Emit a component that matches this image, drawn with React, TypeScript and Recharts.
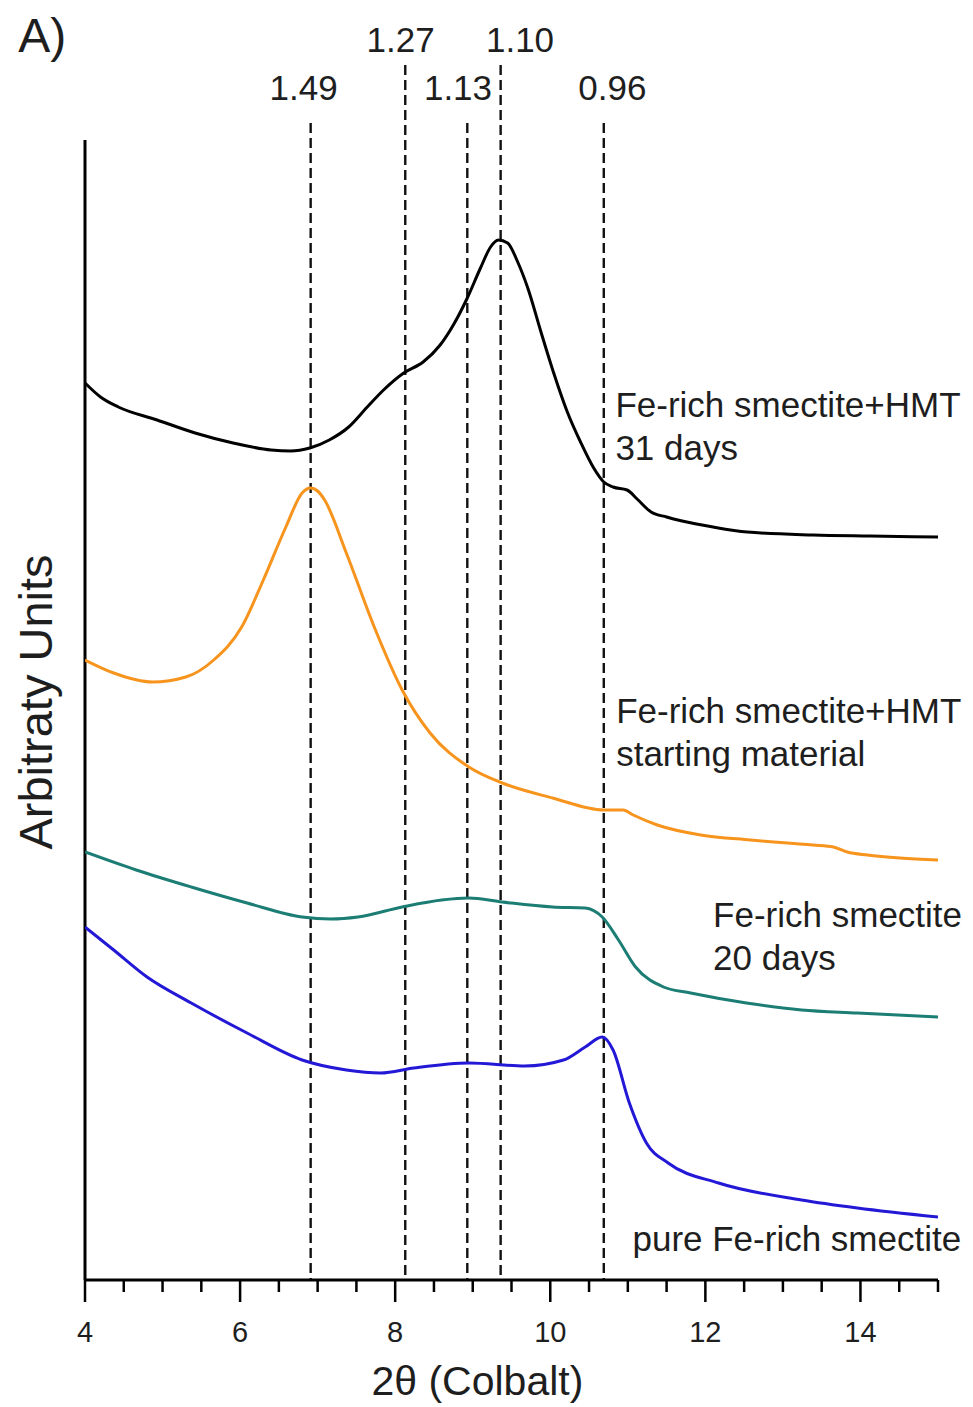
import React from 'react';
import { LineChart, Line, XAxis, YAxis, ReferenceLine, ReferenceDot } from 'recharts';

const FONT = '"Liberation Sans", Arial, Helvetica, sans-serif';
const TEXT = '#1e1e1e';

// ---- series: 2θ (Co) and arbitrary intensity ----
const black2Theta = [4.0, 4.2, 4.43, 4.93, 5.42, 5.91, 6.4, 6.65, 6.9, 7.15, 7.4, 7.64, 7.85, 8.11, 8.36, 8.58, 8.75, 8.93, 9.1, 9.23, 9.33, 9.45, 9.58, 9.71, 9.88, 10.04, 10.22, 10.39, 10.56, 10.69, 10.81, 10.99, 11.12, 11.3, 11.5, 11.7, 12.1, 12.54, 13.39, 14.12, 15.0];
const blackIntensity = [897, 883, 873, 860, 847, 837, 830, 829, 832, 840, 853, 873, 890, 907, 918, 935, 955, 982, 1012, 1033, 1040, 1037, 1018, 992, 948, 908, 868, 838, 812, 798, 793, 790, 781, 768, 763, 759, 753, 748, 745, 744, 743];

const orange2Theta = [4.0, 4.37, 4.87, 5.3, 5.66, 6.02, 6.3, 6.59, 6.8, 6.91, 7.0, 7.09, 7.37, 7.73, 8.09, 8.45, 8.95, 9.38, 10.03, 10.69, 10.94, 11.07, 11.38, 11.94, 12.58, 13.39, 13.65, 13.83, 14.09, 14.51, 15.0];
const orangeIntensity = [620, 607, 598, 603, 620, 653, 700, 753, 787, 792, 789, 780, 727, 653, 590, 547, 513, 497, 482, 470, 470, 465, 455, 445, 440, 435, 433, 428, 425, 422, 420];

const teal2Theta = [4.0, 4.66, 5.37, 6.09, 6.8, 7.17, 7.52, 8.09, 8.6, 8.95, 9.38, 10.03, 10.45, 10.67, 10.88, 11.1, 11.46, 11.81, 12.53, 13.24, 13.96, 15.0];
const tealIntensity = [428, 410, 393, 377, 363, 361, 363, 373, 380, 382, 378, 373, 372, 363, 340, 313, 293, 287, 277, 270, 267, 263];

const blue2Theta = [4.0, 4.37, 4.8, 5.37, 6.09, 6.8, 7.37, 7.81, 8.24, 8.95, 9.67, 10.17, 10.45, 10.67, 10.81, 11.02, 11.24, 11.52, 12.17, 13.24, 13.96, 15.0];
const blueIntensity = [353, 330, 303, 277, 247, 220, 210, 207, 212, 217, 214, 220, 233, 243, 230, 177, 137, 117, 97, 80, 72, 63];

// ---- axis ----
const xTicks = [4, 4.5, 5, 5.5, 6, 6.5, 7, 7.5, 8, 8.5, 9, 9.5, 10, 10.5, 11, 11.5, 12, 12.5, 13, 13.5, 14, 14.5, 15];
const majorTickLabels = [4, 6, 8, 10, 12, 14];

// ---- d-spacing markers (nm) ----
const dSpacingLabels = ['1.49', '1.27', '1.13', '1.10', '0.96'];
const dSpacing2Theta = [6.91, 8.13, 8.93, 9.36, 10.69];
const dLineTop = [1157, 1215, 1157, 1215, 1157];
const dLabel2Theta = [6.82, 8.07, 8.81, 9.61, 10.8];
const dLabelY = [1180, 1228, 1180, 1228, 1180];

// ---- sample labels ----
const sampleLines = [
  ['Fe-rich smectite+HMT', '31 days'],
  ['Fe-rich smectite+HMT', 'starting material'],
  ['Fe-rich smectite', '20 days'],
  ['pure Fe-rich smectite'],
];
const sampleLabel2Theta = [10.84, 10.85, 12.1, 11.06];
const sampleLabelY = [863, 557, 353, 29];

const colors = ['#000000', '#f7941d', '#1b7d74', '#2318d6'];

const toData = (xs: number[], ys: number[]) => xs.map((x, i) => ({ x, y: ys[i] }));
const series = [
  toData(black2Theta, blackIntensity),
  toData(orange2Theta, orangeIntensity),
  toData(teal2Theta, tealIntensity),
  toData(blue2Theta, blueIntensity),
];

const center = (vb: any) => ({
  cx: vb.x + (vb.width || 0) / 2,
  cy: vb.y + (vb.height || 0) / 2,
});

const renderTick = (props: any) => {
  const { x, y, payload } = props;
  const v = payload.value;
  const major = majorTickLabels.includes(v);
  return (
    <g>
      <line x1={x} x2={x} y1={y} y2={y + (major ? 22 : 12)} stroke="#000" strokeWidth={2.5} />
      {major && (
        <text x={x} y={y + 62} textAnchor="middle" fontSize={29} fontFamily={FONT} fill={TEXT}>
          {v}
        </text>
      )}
    </g>
  );
};

const textLabel = (lines: string[], size: number, anchor: string, lineGap = 43) => (p: any) => {
  const { cx, cy } = center(p.viewBox);
  return (
    <text x={cx} y={cy} textAnchor={anchor} fontSize={size} fontFamily={FONT} fill={TEXT}>
      {lines.map((l, i) => (
        <tspan key={i} x={cx} y={cy + i * lineGap}>
          {l}
        </tspan>
      ))}
    </text>
  );
};

const rotatedLabel = (txt: string, size: number) => (p: any) => {
  const { cx, cy } = center(p.viewBox);
  return (
    <text
      x={cx}
      y={cy}
      transform={`rotate(-90, ${cx}, ${cy})`}
      textAnchor="middle"
      fontSize={size}
      fontFamily={FONT}
      fill={TEXT}
    >
      {txt}
    </text>
  );
};

const xTitle = (p: any) => {
  const { cx, cy } = center(p.viewBox);
  return (
    <text x={cx} y={cy} textAnchor="middle" fontSize={41} fontFamily={FONT} fill={TEXT}>
      2θ (Colbalt)
    </text>
  );
};

export default function App() {
  return (
    <LineChart
      width={957}
      height={1399}
      margin={{ top: 0, right: 27, bottom: 47, left: 77 }}
      style={{ background: '#fff' }}
    >
      <XAxis
        type="number"
        dataKey="x"
        domain={[4, 15]}
        ticks={xTicks}
        interval={0}
        allowDataOverflow
        tickLine={false}
        tickSize={0}
        tickMargin={0}
        axisLine={{ stroke: '#000', strokeWidth: 3 }}
        height={80}
        tick={renderTick}
      />
      <YAxis type="number" domain={[0, 1272]} hide allowDataOverflow />

      <ReferenceLine
        segment={[
          { x: 4, y: 0 },
          { x: 4, y: 1140 },
        ]}
        stroke="#000"
        strokeWidth={3}
      />

      {dSpacing2Theta.map((v, i) => (
        <ReferenceLine
          key={'d' + i}
          segment={[
            { x: v, y: dLineTop[i] },
            { x: v, y: 0 },
          ]}
          stroke="#111"
          strokeWidth={2.4}
          strokeDasharray="10 5"
        />
      ))}

      {series.map((d, i) => (
        <Line
          key={'s' + i}
          data={d}
          dataKey="y"
          type="monotone"
          stroke={colors[i]}
          strokeWidth={3}
          dot={false}
          activeDot={false}
          isAnimationActive={false}
        />
      ))}

      {dSpacingLabels.map((t, i) => (
        <ReferenceDot
          key={'dl' + i}
          x={dLabel2Theta[i]}
          y={dLabelY[i]}
          r={0}
          fill="none"
          stroke="none"
          ifOverflow="visible"
          label={textLabel([t], 35, 'middle')}
        />
      ))}

      {sampleLines.map((lines, i) => (
        <ReferenceDot
          key={'sl' + i}
          x={sampleLabel2Theta[i]}
          y={sampleLabelY[i]}
          r={0}
          fill="none"
          stroke="none"
          ifOverflow="visible"
          label={textLabel(lines, 35, 'start')}
        />
      ))}

      <ReferenceDot
        x={3.14}
        y={1228}
        r={0}
        fill="none"
        stroke="none"
        ifOverflow="visible"
        label={textLabel(['A)'], 48, 'start')}
      />
      <ReferenceDot
        x={3.58}
        y={578}
        r={0}
        fill="none"
        stroke="none"
        ifOverflow="visible"
        label={rotatedLabel('Arbitraty Units', 47)}
      />
      <ReferenceDot
        x={9.06}
        y={-115}
        r={0}
        fill="none"
        stroke="none"
        ifOverflow="visible"
        label={xTitle}
      />
    </LineChart>
  );
}
